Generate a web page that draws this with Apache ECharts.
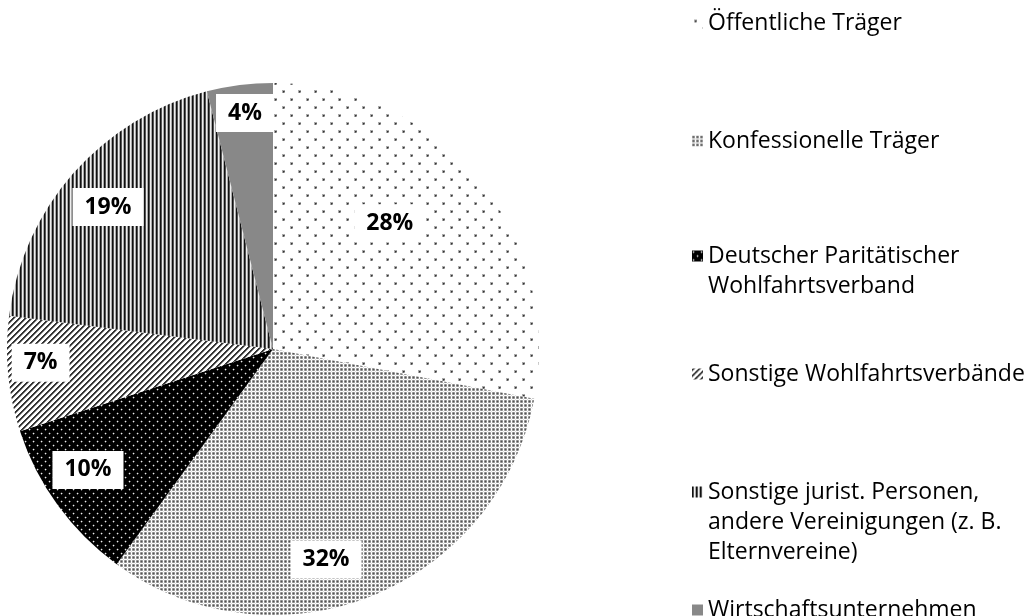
<!DOCTYPE html>
<html>
<head>
<meta charset="utf-8">
<script src="https://cdn.jsdelivr.net/npm/echarts@6/dist/echarts.min.js"></script>
<style>
  html, body { margin: 0; padding: 0; background: #fff; }
  #chart { width: 1032px; height: 616px; }
</style>
</head>
<body>
<div id="chart"></div>
<script>
// Träger der Einrichtungen, Anteile in %
const categories = [
  'Öffentliche Träger',
  'Konfessionelle Träger',
  'Deutscher Paritätischer\nWohlfahrtsverband',
  'Sonstige Wohlfahrtsverbände',
  'Sonstige jurist. Personen,\nandere Vereinigungen (z. B.\nElternvereine)',
  'Wirtschaftsunternehmen'
];
const shares = [28, 32, 10, 7, 19, 4];

// Label shift away from the default inside position, per slice
const labelShift = [[12, -39], [3, 84], [-75, 41], [-97, 1], [-63, -52], [-11, -101]];
// Vertical centre of each legend entry's first line
const legendLineY = [23, 141, 256, 374, 492, 610];

const FONT = '"Open Sans", sans-serif';
const LINE_H = 30;

function tile(w, h, draw) {
  const c = document.createElement('canvas');
  c.width = w; c.height = h;
  const ctx = c.getContext('2d');
  draw(ctx, w, h);
  return c;
}
function px(ctx, x, y, col) { ctx.fillStyle = col; ctx.fillRect(x, y, 1, 1); }

// Fill patterns for the slices
const patterns = [
  // sparse staggered dots
  tile(16, 16, (ctx, w, h) => {
    ctx.fillStyle = '#fff'; ctx.fillRect(0, 0, w, h);
    [[3, 3], [11, 11]].forEach(([x, y]) => {
      ctx.fillStyle = '#aaa'; ctx.fillRect(x - 1, y - 1, 3, 3);
      ctx.fillStyle = '#333'; ctx.fillRect(x, y, 1, 1);
      px(ctx, x + 1, y, '#666'); px(ctx, x, y + 1, '#666');
    });
  }),
  // fine gray grid
  tile(4, 4, (ctx, w, h) => {
    ctx.fillStyle = '#fff'; ctx.fillRect(0, 0, w, h);
    ctx.fillStyle = '#a8a8a8'; ctx.fillRect(0, 0, 3, 3);
    px(ctx, 1, 1, '#555');
    px(ctx, 0, 1, '#888'); px(ctx, 1, 0, '#888'); px(ctx, 2, 1, '#888'); px(ctx, 1, 2, '#888');
    px(ctx, 3, 3, '#ddd');
  }),
  // light dots on black
  tile(8, 8, (ctx, w, h) => {
    ctx.fillStyle = '#000'; ctx.fillRect(0, 0, w, h);
    [[1, 1], [5, 5]].forEach(([x, y]) => {
      px(ctx, x, y, '#eee');
      px(ctx, x + 1, y, '#555'); px(ctx, x - 1, y, '#333');
      px(ctx, x, y + 1, '#555'); px(ctx, x, y - 1, '#333');
    });
  }),
  // diagonal stripes
  tile(6, 6, (ctx, w, h) => {
    for (let y = 0; y < h; y++) {
      for (let x = 0; x < w; x++) {
        const k = (x + y) % 6;
        px(ctx, x, y, k === 0 || k === 1 ? '#333' : (k === 2 ? '#999' : '#fff'));
      }
    }
  }),
  // vertical stripes
  tile(4, 1, (ctx) => {
    px(ctx, 0, 0, '#111'); px(ctx, 1, 0, '#555'); px(ctx, 2, 0, '#eee'); px(ctx, 3, 0, '#aaa');
  }),
  null
];
const solidGray = '#888888';

const pieData = categories.map((name, i) => ({
  name: name,
  value: shares[i],
  itemStyle: { color: patterns[i] ? { image: patterns[i], repeat: 'repeat' } : solidGray },
  label: { offset: labelShift[i] }
}));

// One legend per entry; blank lines ahead of a wrapped name keep the
// marker level with the entry's first line.
const legends = categories.map((name, i) => {
  const lines = name.split('\n').length;
  return {
    data: [name],
    orient: 'vertical',
    left: 692,
    top: legendLineY[i] - (2 * lines - 1) * LINE_H / 2,
    padding: 0,
    itemWidth: 11,
    itemHeight: 11,
    itemGap: 0,
    icon: 'rect',
    selectedMode: false,
    formatter: (n) => '\n'.repeat(lines - 1) + n,
    textStyle: {
      fontFamily: FONT,
      fontSize: 23,
      color: '#000',
      lineHeight: LINE_H
    }
  };
});

const chart = echarts.init(document.getElementById('chart'), null, { renderer: 'canvas' });
chart.setOption({
  animation: false,
  backgroundColor: '#fff',
  legend: legends,
  series: [{
    type: 'pie',
    center: [273, 349],
    radius: 266,
    startAngle: 90,
    clockwise: true,
    avoidLabelOverlap: false,
    silent: true,
    itemStyle: { borderWidth: 0 },
    label: {
      show: true,
      position: 'inside',
      formatter: '{c}%',
      color: '#000',
      fontFamily: FONT,
      fontWeight: 'bold',
      fontSize: 23,
      backgroundColor: '#fff',
      padding: [8, 12, 7, 12]
    },
    labelLine: { show: false },
    emphasis: { disabled: true },
    data: pieData
  }]
});
</script>
</body>
</html>
